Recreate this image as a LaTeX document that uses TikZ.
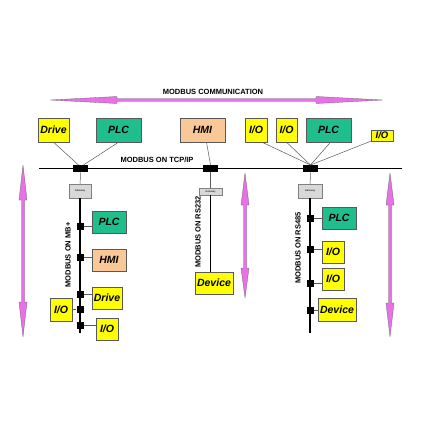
\documentclass[tikz,border=0pt]{standalone}
\usepackage{fontspec}
\setmainfont{Liberation Sans}
\usetikzlibrary{calc}
\usetikzlibrary{positioning}

\definecolor{devyellow}{RGB}{255,255,0}
\definecolor{plcgreen}{RGB}{32,190,140}
\definecolor{hmipeach}{RGB}{250,200,150}
\definecolor{arrowpink}{RGB}{232,112,232}
\definecolor{gatewaygray}{RGB}{216,216,216}

\begin{document}
\begin{tikzpicture}[x=1pt, y=-1pt,
    unit/.style={draw=gray!70!black, line width=0.4pt, inner sep=0pt, minimum height=22pt,
                 font=\fontsize{10.5}{12}\selectfont\bfseries\itshape},
    iobox/.style={unit, fill=devyellow, minimum width=22pt},
    drivebox/.style={unit, fill=devyellow},
    plcbox/.style={unit, fill=plcgreen, minimum width=34pt},
    hmibox/.style={unit, fill=hmipeach, minimum width=34pt},
    gatebox/.style={draw=gray, fill=gatewaygray, inner sep=0pt,
                    font=\fontsize{2.6}{3}\selectfont},
    tap/.style={fill=black, inner sep=0pt, minimum width=7pt, minimum height=7pt},
    hub/.style={fill=black, inner sep=0pt, minimum width=15pt, minimum height=7pt},
    busname/.style={font=\fontsize{7.5}{8}\selectfont\bfseries},
    bus/.style={line width=1.6pt},
    link/.style={gray!70!black, line width=0.5pt},
    twoway/.style={fill=arrowpink, draw=gray!80!black, line width=0.3pt, line join=round}]
    \useasboundingbox (0,0) rectangle (420,430);

    % Overall communication arrow
    \filldraw[twoway] (50,100) -- (117,96.5) -- (117,98.7) -- (316,98.7) -- (316,96.5) -- (383,100)
        -- (316,103.5) -- (316,101.3) -- (117,101.3) -- (117,103.5) -- cycle;
    \node[busname] (comm) at (213,92) {MODBUS COMMUNICATION};

    % Devices on the TCP/IP network
    \node[drivebox, minimum width=31pt, minimum height=24pt] (drivetop) at (53.5,130) {Drive};
    \node[plcbox, minimum width=45pt, minimum height=24pt] (plctop) at (118.5,130) {PLC};
    \node[hmibox, minimum width=45pt, minimum height=24pt] (hmitop) at (202.5,130) {HMI};
    \node[iobox, minimum height=24pt] (iotopa) at (256,130) {I/O};
    \node[iobox, minimum width=21pt, minimum height=24pt] (iotopb) at (286.5,130) {I/O};
    \node[plcbox, minimum width=45pt, minimum height=24pt] (plctopb) at (328.5,130) {PLC};
    \node[iobox, minimum height=11pt, font=\fontsize{9.5}{10}\selectfont\bfseries\itshape] (iotopc) at (382,135.5) {I/O};

    % TCP/IP backbone
    \coordinate (tcpleft) at (39,168.7);
    \coordinate (tcpright) at (402,168.7);
    \draw[bus] (tcpleft) -- (tcpright);
    \node[busname] (tcpname) at (157,160) {MODBUS ON TCP/IP};
    \node[hub] (hubmb) at (80.5,168.7) {};
    \node[hub] (hubrs232) at (210.5,168.7) {};
    \node[hub] (hubrs485) at (310.5,168.7) {};

    % Links to the backbone
    \draw[link] (drivetop.south) -- ($(hubmb.north)+(-2,0)$);
    \draw[link] (plctop.south) -- ($(hubmb.north)+(3,0)$);
    \draw[link] ($(hmitop.south)+(4,0)$) -- (hubrs232.north);
    \draw[link] ($(iotopa.south)+(6,0)$) -- (hubrs485.north);
    \draw[link] (iotopb.south) -- (hubrs485.north);
    \draw[link] ($(plctopb.south)+(2,0)$) -- (hubrs485.north);
    \draw[link] (iotopc.south west) -- (hubrs485.north);

    % Gateways
    \node[gatebox, minimum width=22pt, minimum height=14pt] (gatemb) at (80,191) {Gateway};
    \node[gatebox, minimum width=23pt, minimum height=7pt] (gaters232) at (210.5,191.5) {Gateway};
    \node[gatebox, minimum width=24pt, minimum height=14pt] (gaters485) at (310,191) {Gateway};
    \draw[link] (hubmb) -- (gatemb);
    \draw[link] (hubrs232) -- (gaters232);
    \draw[link] (hubrs485) -- (gaters485);

    % MB+ branch
    \coordinate (mbend) at (80,333);
    \draw[bus] (gatemb.south) -- (mbend);
    \node[busname, rotate=90] (mbname) at (68,255) {MODBUS ON MB+};
    \node[plcbox] (plcmb) at (109,222) {PLC};
    \node[hmibox] (hmimb) at (109,260) {HMI};
    \node[drivebox, minimum width=30pt] (drivemb) at (107,298) {Drive};
    \node[iobox, minimum height=23pt] (iomba) at (61,309.5) {I/O};
    \node[iobox] (iombb) at (107,329) {I/O};
    \node[tap] (tapmba) at (80,226) {};
    \node[tap] (tapmbb) at (80,257) {};
    \node[tap] (tapmbc) at (80,294) {};
    \node[tap] (tapmbd) at (80,309) {};
    \node[tap] (tapmbe) at (80,325) {};
    \draw[link] (tapmba) -- (tapmba -| plcmb.west);
    \draw[link] (tapmbb) -- (tapmbb -| hmimb.west);
    \draw[link] (tapmbc) -- (tapmbc -| drivemb.west);
    \draw[link] (tapmbd) -- (tapmbd -| iomba.east);
    \draw[link] (tapmbe) -- (tapmbe -| iombb.west);

    % RS232 branch
    \node[drivebox, minimum width=38pt] (devrs232) at (214,283) {Device};
    \draw[bus] (gaters232.south) -- (gaters232.south |- devrs232.north);
    \node[busname, rotate=90] (rs232name) at (198,232) {MODBUS ON RS232};

    % RS485 branch
    \coordinate (rs485end) at (310,333);
    \draw[bus] (gaters485.south) -- (rs485end);
    \node[busname, rotate=90] (rs485name) at (298,248) {MODBUS ON RS485};
    \node[plcbox] (plcrs485) at (339,218) {PLC};
    \node[iobox] (iors485a) at (333,252) {I/O};
    \node[iobox] (iors485b) at (333,279) {I/O};
    \node[drivebox, minimum width=38pt, minimum height=23pt] (devrs485) at (337,309.5) {Device};
    \node[tap] (taprsa) at (310,218) {};
    \node[tap] (taprsb) at (310,249) {};
    \node[tap] (taprsc) at (310,283) {};
    \node[tap] (taprsd) at (310,310) {};
    \draw[link] (taprsa) -- (taprsa -| plcrs485.west);
    \draw[link] (taprsb) -- (taprsb -| iors485a.west);
    \draw[link] (taprsc) -- (taprsc -| iors485b.west);
    \draw[link] (taprsd) -- (taprsd -| devrs485.west);

    % Side arrows
    \filldraw[twoway] (23,165) -- (27,200) -- (24.5,200) -- (24.5,302) -- (27,302) -- (23,337)
        -- (19,302) -- (21.5,302) -- (21.5,200) -- (19,200) -- cycle;
    \filldraw[twoway] (245,173) -- (249,205) -- (246.5,205) -- (246.5,268) -- (249,268) -- (245,298)
        -- (241,268) -- (243.5,268) -- (243.5,205) -- (241,205) -- cycle;
    \filldraw[twoway] (390,173) -- (394,205) -- (391.5,205) -- (391.5,303) -- (394,303) -- (390,337)
        -- (386,303) -- (388.5,303) -- (388.5,205) -- (386,205) -- cycle;
\end{tikzpicture}
\end{document}
